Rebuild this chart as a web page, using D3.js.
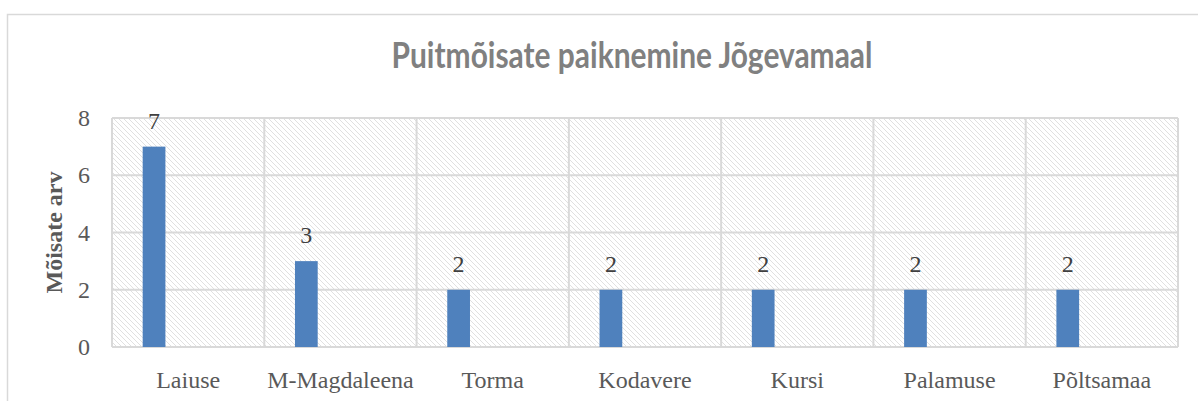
<!DOCTYPE html>
<html>
<head>
<meta charset="utf-8">
<script src="https://cdn.jsdelivr.net/npm/d3@7"></script>
<style>
  body { margin: 0; background: #fff; }
  svg { display: block; }
</style>
</head>
<body>
<div id="chart"></div>
<script>
// data
const categories = ['Laiuse', 'M-Magdaleena', 'Torma', 'Kodavere', 'Kursi', 'Palamuse', 'Põltsamaa'];
const values = [7, 3, 2, 2, 2, 2, 2];
const yTicks = [0, 2, 4, 6, 8];
const slots = [0, 1, 2, 3]; // excel-style cluster slots, only the first one is filled
const title = 'Puitmõisate paiknemine Jõgevamaal';
const yTitle = 'Mõisate arv';

const W = 1198, H = 401;
const plot = { left: 112, right: 1178, top: 118, bottom: 347 };

const svg = d3.select('#chart').append('svg')
  .attr('width', W)
  .attr('height', H);

// hatch fill for the plot area
const defs = svg.append('defs');
const pat = defs.append('pattern')
  .attr('id', 'hatch')
  .attr('patternUnits', 'userSpaceOnUse')
  .attr('width', 5)
  .attr('height', 5);
pat.append('rect').attr('width', 5).attr('height', 5).attr('fill', '#fff');
pat.append('path')
  .attr('d', 'M-1,-1 L6,6 M-1,4 L1,6 M4,-1 L6,1')
  .attr('stroke', '#e0e0e0')
  .attr('stroke-width', 1);

// chart frame
svg.append('rect')
  .attr('x', 7.5).attr('y', 14.5)
  .attr('width', 1300).attr('height', 500)
  .attr('fill', 'none')
  .attr('stroke', '#d9d9d9')
  .attr('stroke-width', 1.5);

const x = d3.scaleBand()
  .domain(categories)
  .range([plot.left, plot.right]);

const x1 = d3.scaleBand()
  .domain(slots)
  .range([0, x.bandwidth()])
  .paddingOuter(1.35);

const y = d3.scaleLinear()
  .domain([0, 8])
  .range([plot.bottom, plot.top]);

svg.append('rect')
  .attr('x', plot.left).attr('y', plot.top)
  .attr('width', plot.right - plot.left)
  .attr('height', plot.bottom - plot.top)
  .attr('fill', 'url(#hatch)');

// gridlines
svg.append('g')
  .selectAll('line')
  .data(yTicks)
  .join('line')
  .attr('x1', plot.left).attr('x2', plot.right)
  .attr('y1', d => y(d)).attr('y2', d => y(d))
  .attr('stroke', '#d9d9d9')
  .attr('stroke-width', 2);

svg.append('g')
  .selectAll('line')
  .data(categories.concat(['__end']))
  .join('line')
  .attr('x1', d => d === '__end' ? plot.right : x(d))
  .attr('x2', d => d === '__end' ? plot.right : x(d))
  .attr('y1', plot.top).attr('y2', plot.bottom)
  .attr('stroke', '#d9d9d9')
  .attr('stroke-width', 2);

// bars
svg.append('g')
  .selectAll('rect')
  .data(values)
  .join('rect')
  .attr('x', (d, i) => x(categories[i]) + x1(0))
  .attr('y', d => y(d))
  .attr('width', x1.bandwidth())
  .attr('height', d => y(0) - y(d))
  .attr('fill', '#4f81bd');

// data labels
svg.append('g')
  .selectAll('text')
  .data(values)
  .join('text')
  .attr('x', (d, i) => x(categories[i]) + x1(0) + x1.bandwidth() / 2)
  .attr('y', d => y(d) - 18)
  .attr('text-anchor', 'middle')
  .style('font-family', '"Liberation Serif", serif')
  .style('font-size', '24px')
  .attr('fill', '#404040')
  .text(d => d);

// y axis
const yAxis = d3.axisLeft(y).tickValues(yTicks).tickSize(0).tickPadding(22);
svg.append('g')
  .attr('transform', `translate(${plot.left},0)`)
  .call(yAxis)
  .call(g => g.select('.domain').remove())
  .call(g => g.selectAll('text')
    .style('font-family', '"Liberation Serif", serif')
    .style('font-size', '24px')
    .attr('fill', '#595959'));

// x axis
const xAxis = d3.axisBottom(x).tickSize(0).tickPadding(24);
svg.append('g')
  .attr('transform', `translate(0,${plot.bottom})`)
  .call(xAxis)
  .call(g => g.select('.domain').remove())
  .call(g => g.selectAll('text')
    .style('font-family', '"Liberation Serif", serif')
    .style('font-size', '24px')
    .attr('fill', '#595959'));

// titles - calibri isn't available, so squeeze lato into the same width
svg.append('text')
  .attr('x', 632)
  .attr('y', 68)
  .attr('text-anchor', 'middle')
  .attr('textLength', 481)
  .attr('lengthAdjust', 'spacingAndGlyphs')
  .style('font-family', 'Lato, sans-serif')
  .style('font-weight', 'bold')
  .style('font-size', '37px')
  .attr('fill', '#808080')
  .text(title);

svg.append('text')
  .attr('transform', `translate(62,${(plot.top + plot.bottom) / 2}) rotate(-90)`)
  .attr('text-anchor', 'middle')
  .style('font-family', '"Liberation Serif", serif')
  .style('font-weight', 'bold')
  .style('font-size', '24px')
  .attr('fill', '#595959')
  .text(yTitle);
</script>
</body>
</html>
